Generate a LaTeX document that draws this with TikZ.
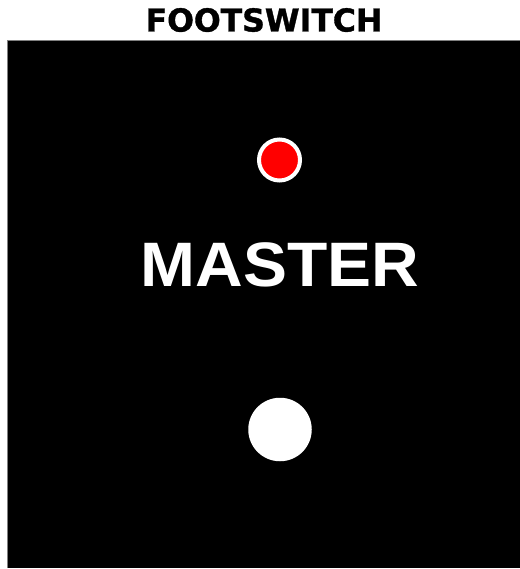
\documentclass[tikz,border=0pt]{standalone}
\usepackage{fontspec}
\setmainfont{Liberation Sans}
\newfontfamily\titlefont{DejaVu Sans}[UprightFont={* Bold},FakeBold=1.2]
\newfontfamily\masterfont{Liberation Sans}[UprightFont={* Bold},FakeStretch=1.05]
\begin{document}
\begin{tikzpicture}[x=1pt,y=-1pt]
	\useasboundingbox (0,0) rectangle (519,569);
	\fill[black] (7,40) rectangle (521,568);
	\draw[gray,line width=0.8pt] (7.4,568) -- (7.4,40.4) -- (521,40.4);
	\node[font=\titlefont\fontsize{31.5}{32}\selectfont,anchor=base] (title) at (264,31.5) {FOOTSWITCH};
	\node[circle,fill=red,draw=white,line width=4pt,minimum size=41pt,inner sep=0pt] (led) at (279.5,160) {};
	\node[text=white,font=\masterfont\fontsize{62.8}{63}\selectfont,anchor=base] (master) at (280,286.5) {MASTER};
	\node[circle,fill=white,minimum size=63.5pt,inner sep=0pt] (switch) at (280,429.5) {};
\end{tikzpicture}
\end{document}
